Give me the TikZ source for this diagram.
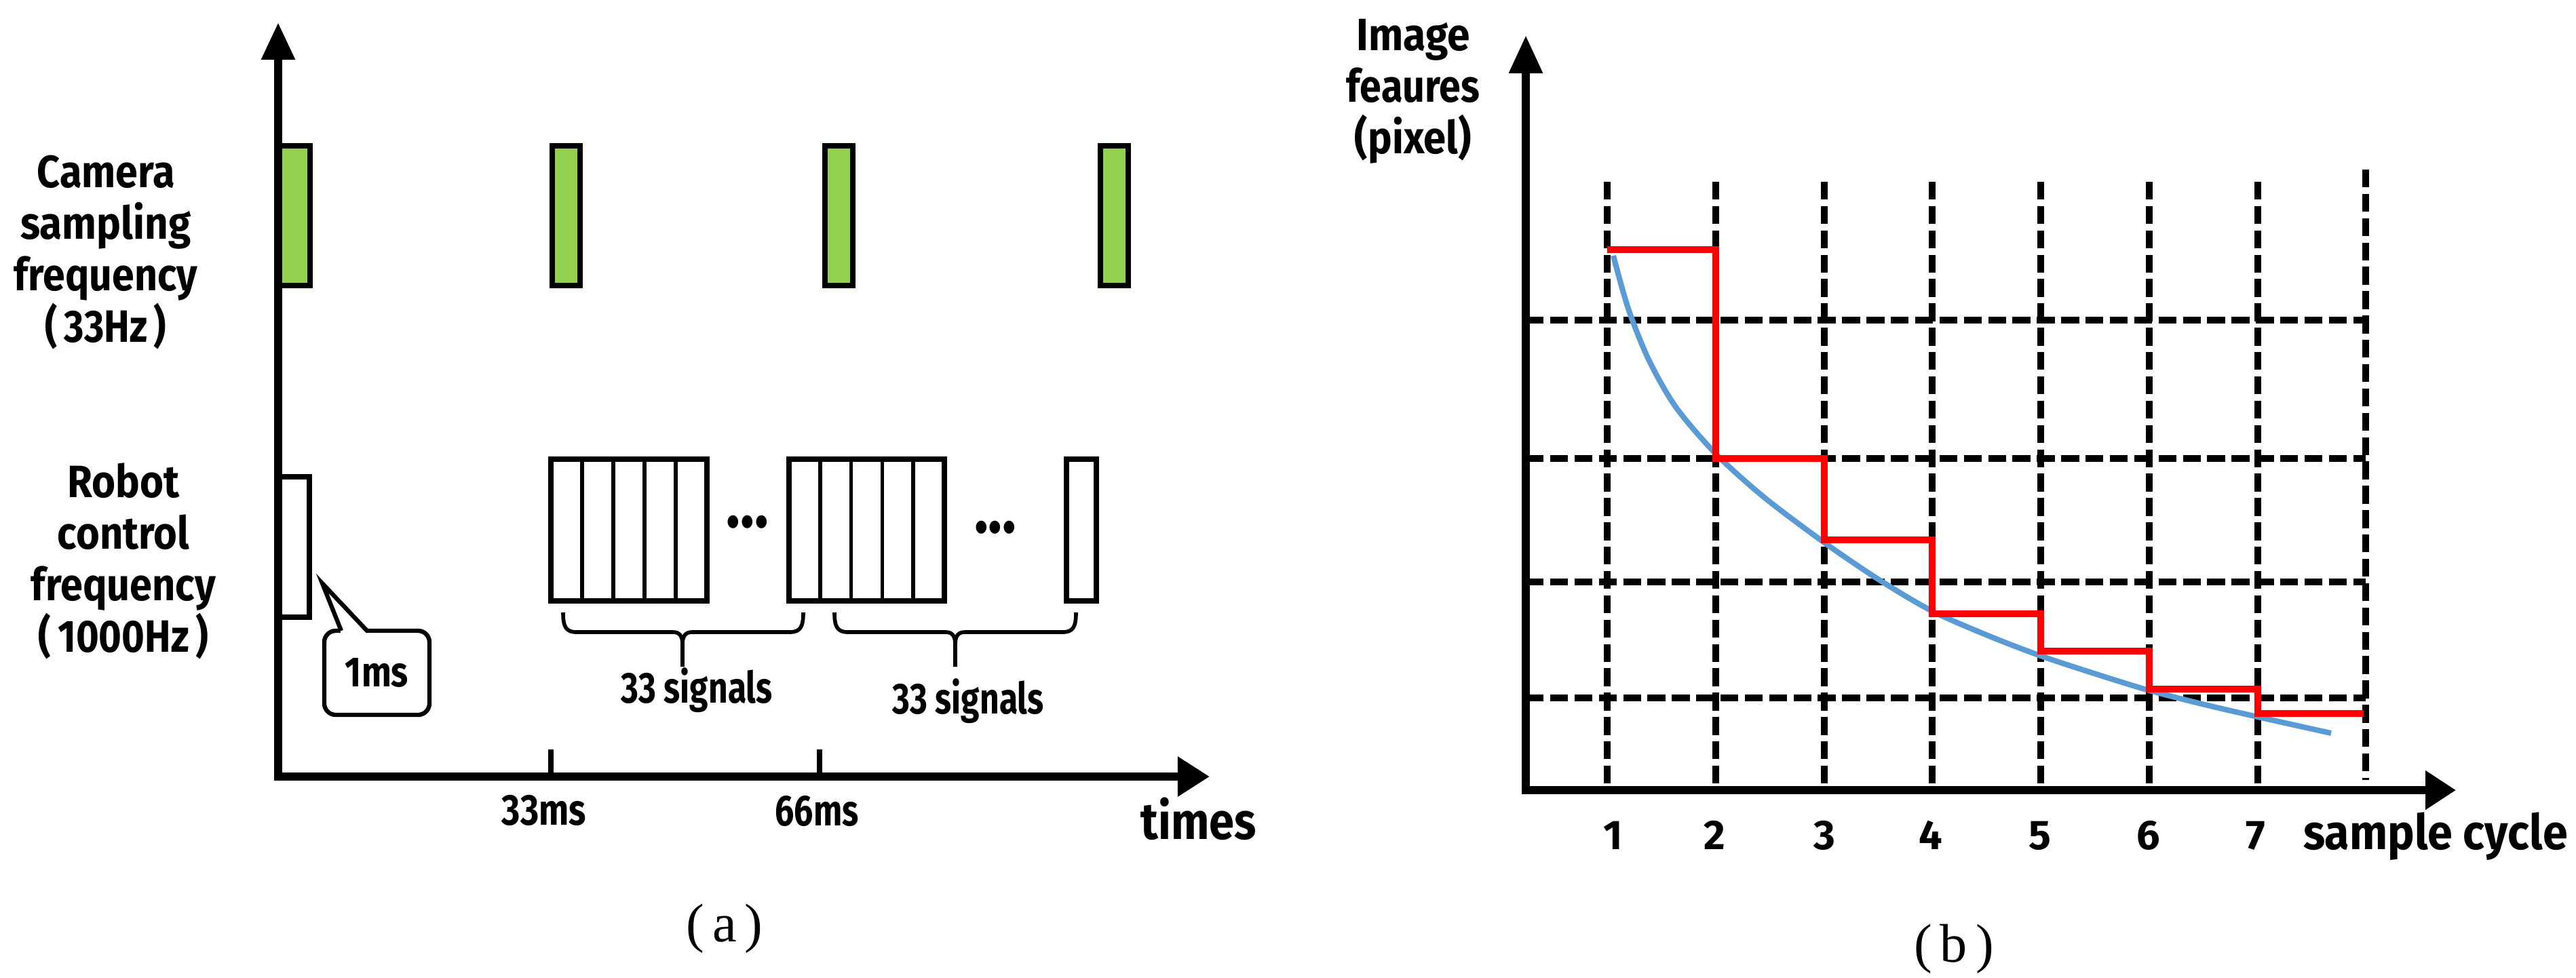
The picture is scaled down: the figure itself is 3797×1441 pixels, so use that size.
\documentclass[tikz,border=0pt]{standalone}
\usepackage{fontspec}
\usepackage{graphicx}
\setmainfont{Fira Sans}
\newfontfamily\lblf{Fira Sans}
\newfontfamily\serifcap{Liberation Serif}
\usetikzlibrary{arrows.meta}
\definecolor{camgreen}{HTML}{92D050}
\definecolor{curveblue}{HTML}{5B9BD5}
\definecolor{stepred}{HTML}{FF0000}
\newsavebox\fitbox
% set #2 at the current font, scaled horizontally to #1 px wide
\newcommand\fitw[2]{\sbox\fitbox{#2}\pgfmathsetmacro\fitsx{#1*0.28453/\the\wd\fitbox}\scalebox{\fitsx}[1]{\usebox\fitbox}}
\newcommand\mybrace[3]{%
  \draw[bracel] (#1,903) .. controls (#1,924) and ({#1+4},932) .. ({#1+20},932) -- ({#3-14},932) .. controls ({#3-5},932) and (#3,937) .. (#3,950) -- (#3,983);
  \draw[bracel] (#2,903) .. controls (#2,924) and ({#2-4},932) .. ({#2-20},932) -- ({#3+14},932) .. controls ({#3+5},932) and (#3,937) .. (#3,950);}
\begin{document}
\begin{tikzpicture}[x=0.01cm,y=-0.01cm,
  axisline/.style={line width=3.4pt, line join=miter},
  gbar/.style={draw=black, fill=camgreen, line width=2.4pt},
  rbox/.style={draw=black, fill=white, line width=2.3pt},
  cell/.style={line width=1.6pt},
  tickl/.style={line width=2.3pt},
  bracel/.style={line width=1.6pt},
  callline/.style={line width=1.8pt, line join=miter},
  callbox/.style={draw, fill=white, line width=1.8pt, rounded corners=0.17cm, minimum width=1.55cm, minimum height=1.24cm, inner sep=0pt, font=\lblf\bfseries\fontsize{17.7pt}{20pt}\selectfont},
  lab/.style={font=\lblf\bfseries\fontsize{19pt}{21.6pt}\selectfont, align=center, inner sep=0pt},
  cond/.style={font=\lblf\bfseries\fontsize{18.2pt}{20pt}\selectfont, inner sep=0pt},
  dotsf/.style={font=\lblf\bfseries\fontsize{30pt}{32pt}\selectfont, inner sep=0pt},
  timesf/.style={font=\lblf\bfseries\fontsize{21.6pt}{24pt}\selectfont, inner sep=0pt},
  capt/.style={font=\serifcap\fontsize{22.8pt}{26pt}\selectfont, inner sep=0pt},
  gridd/.style={line width=2.6pt, dash pattern=on 7.5pt off 2.7pt},
  bluec/.style={draw=curveblue, line width=2.3pt},
  redstep/.style={draw=stepred, line width=2.85pt, line join=miter},
  numf/.style={font=\lblf\bfseries\fontsize{17.4pt}{20pt}\selectfont, inner sep=0pt}]
\useasboundingbox (0,0) rectangle (3797,1441);

% ---------------- panel (a) ----------------
\coordinate (LO) at (410,1145);
\coordinate (LYtip) at (410,33);
\coordinate (LXtip) at (1783,1145);

% camera frames
\draw[gbar] (408,215) rectangle (457,421);
\draw[gbar] (814,215) rectangle (855,421);
\draw[gbar] (1216,215) rectangle (1257,421);
\draw[gbar] (1622,215) rectangle (1663,421);

% robot control signals
\draw[rbox] (408,703) rectangle (456,910);
\draw[rbox] (812,677) rectangle (1042,886);
\foreach \k in {1,...,4} \draw[cell] ({812+46*\k},677) -- ({812+46*\k},886);
\draw[rbox] (1163,677) rectangle (1392,886);
\foreach \k in {1,...,4} \draw[cell] ({1163+45.8*\k},677) -- ({1163+45.8*\k},886);
\draw[rbox] (1572,677) rectangle (1616,886);

\node[dotsf] (dots1) at (1102,770) {\fitw{62}{...}};
\node[dotsf] (dots2) at (1467,778) {\fitw{62}{...}};

% axes
\draw[axisline, {Triangle[length=0.55cm,width=0.47cm]}-{Triangle[length=0.47cm,width=0.56cm]}] (LYtip) -- (LO) -- (LXtip);
\draw[tickl] (812,1105) -- (812,1145);
\draw[tickl] (1208,1105) -- (1208,1145);

% braces
\mybrace{830}{1184}{1006}
\mybrace{1230}{1586}{1408}

% callout
\node[callbox] (ms) at (555.5,992) {\fitw{93}{1ms}};
\coordinate (mstip) at (475,860);
\fill[white] (503,935) -- (mstip) -- (541,935) -- cycle;
\draw[callline] (503,930) -- (mstip) -- (541,930);

% labels
\node[lab] (camlab) at (156,372) {\fitw{203}{Camera}\\\fitw{251}{sampling}\\\fitw{270}{frequency}\\\fitw{178}{(\,33Hz\,)}};
\node[lab] (roblab) at (182,827) {\fitw{165}{Robot}\\\fitw{194}{control}\\\fitw{272}{frequency}\\\fitw{250}{(\,1000Hz\,)}};
\node[cond, anchor=base] (sig1) at (1027,1036) {\fitw{223}{33 signals}};
\node[cond, anchor=base] (sig2) at (1427,1052) {\fitw{223}{33 signals}};
\node[cond, anchor=base] (t33) at (802,1216) {\fitw{124}{33ms}};
\node[cond, anchor=base] (t66) at (1204,1217) {\fitw{123}{66ms}};
\node[timesf, anchor=base] (times) at (1767,1237) {\fitw{170}{times}};
\node[capt, anchor=base] (capa) at (1068,1388) {(\hspace{0.12cm}a\hspace{0.12cm})};

% ---------------- panel (b) ----------------
\coordinate (RO) at (2249,1165);
\coordinate (RYtip) at (2249,52);
\coordinate (RXtip) at (3620,1165);

\foreach \x in {2369,2529,2689,2848,3008,3168,3328} \draw[gridd] (\x,268) -- (\x,1165);
\draw[gridd] (3487,250) -- (3487,1150);
\foreach \y in {472,676,858,1029} \draw[gridd] (2249,\y) -- (3487,\y);

\draw[bluec] plot[smooth, tension=0.5] coordinates {(2378,377) (2400,455) (2430,530) (2470,600) (2529,669) (2600,733) (2689,800) (2770,855) (2848,901) (2930,937) (3008,967) (3090,994) (3168,1018) (3250,1039) (3328,1057) (3436,1081)};
\draw[redstep] (2369,368) -- (2529,368) -- (2529,676) -- (2689,676) -- (2689,796) -- (2848,796) -- (2848,905) -- (3008,905) -- (3008,960) -- (3168,960) -- (3168,1016) -- (3328,1016) -- (3328,1052) -- (3484,1052);

\draw[axisline, {Triangle[length=0.56cm,width=0.47cm]}-{Triangle[length=0.45cm,width=0.55cm]}] (RYtip) -- (RO) -- (RXtip);

\foreach \x/\n in {2378/1,2527/2,2689/3,2846/4,3007/5,3167/6,3325/7}
  \node[numf, anchor=base] (num\n) at (\x,1252) {\n};
\node[timesf, font=\lblf\bfseries\fontsize{20.5pt}{24pt}\selectfont, anchor=base] (scyc) at (3590,1252) {\fitw{389}{sample cycle}};
\node[lab] (ylab) at (2083,135) {\fitw{167}{Image}\\\fitw{196}{feaures}\\\fitw{172}{(pixel)}};
\node[capt, anchor=base] (capb) at (2880,1418) {(\hspace{0.12cm}b\hspace{0.12cm})};
\end{tikzpicture}
\end{document}
